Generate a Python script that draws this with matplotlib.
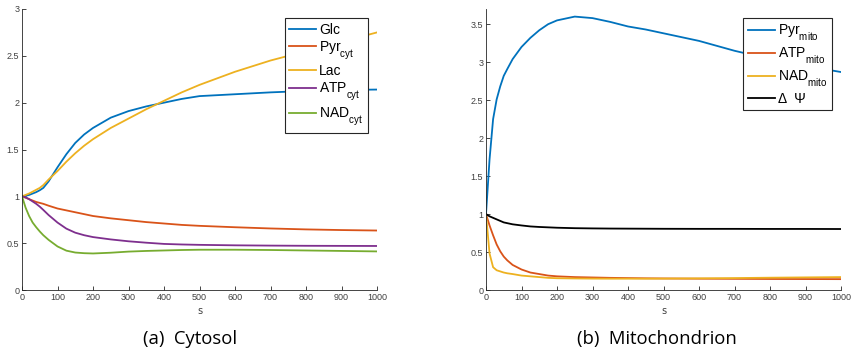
import matplotlib
matplotlib.use("Agg")
import matplotlib.pyplot as plt
import matplotlib._mathtext as mt
import numpy as np

plt.rcParams["mathtext.fontset"] = "custom"
plt.rcParams["mathtext.rm"] = "Liberation Sans"
plt.rcParams["mathtext.it"] = "Liberation Sans:italic"
# MATLAB puts subscripts lower than mathtext does
mt.FontConstantsBase.sub1 = 0.8

# time points (s)
t = [0, 10, 20, 30, 40, 50, 60, 75, 100, 125, 150, 175, 200, 250, 300, 350, 400,
     450, 500, 600, 700, 800, 900, 1000]

# cytosol
glc = [1.0, 1.005, 1.015, 1.03, 1.045, 1.065, 1.09, 1.16, 1.31, 1.45, 1.57, 1.66, 1.73,
       1.84, 1.91, 1.96, 2.0, 2.04, 2.07, 2.09, 2.11, 2.125, 2.135, 2.14]
lac = [1.0, 1.015, 1.03, 1.05, 1.07, 1.09, 1.12, 1.18, 1.27, 1.37, 1.46, 1.54, 1.61,
       1.73, 1.83, 1.93, 2.02, 2.11, 2.19, 2.33, 2.45, 2.55, 2.65, 2.75]
pyr_cyt = [1.0, 0.985, 0.97, 0.955, 0.94, 0.93, 0.92, 0.90, 0.87, 0.85, 0.83, 0.81,
           0.79, 0.765, 0.745, 0.725, 0.71, 0.695, 0.685, 0.67, 0.657, 0.647, 0.64, 0.635]
atp_cyt = [1.0, 0.99, 0.97, 0.945, 0.92, 0.89, 0.855, 0.80, 0.72, 0.655, 0.612, 0.585,
           0.565, 0.54, 0.52, 0.505, 0.492, 0.486, 0.482, 0.477, 0.474, 0.472, 0.471, 0.47]
nad_cyt = [1.0, 0.88, 0.79, 0.72, 0.67, 0.625, 0.585, 0.535, 0.465, 0.42, 0.40, 0.393,
           0.39, 0.398, 0.41, 0.417, 0.422, 0.427, 0.43, 0.43, 0.427, 0.422, 0.417, 0.412]

# mitochondrion
pyr_mito = [1.0, 1.72, 2.25, 2.51, 2.68, 2.82, 2.91, 3.04, 3.2, 3.32, 3.42, 3.5, 3.55,
            3.6, 3.58, 3.53, 3.47, 3.43, 3.38, 3.28, 3.15, 3.04, 2.95, 2.87]
atp_mito = [1.0, 0.85, 0.72, 0.6, 0.51, 0.44, 0.39, 0.33, 0.27, 0.23, 0.21, 0.19, 0.18,
            0.17, 0.165, 0.16, 0.157, 0.154, 0.152, 0.149, 0.147, 0.145, 0.144, 0.143]
nad_mito = [1.0, 0.48, 0.3, 0.26, 0.245, 0.23, 0.22, 0.21, 0.19, 0.18, 0.17, 0.16,
            0.155, 0.152, 0.15, 0.149, 0.149, 0.149, 0.15, 0.153, 0.157, 0.162, 0.166, 0.17]
dpsi = [1.0, 0.97, 0.95, 0.93, 0.91, 0.89, 0.88, 0.865, 0.85, 0.837, 0.83, 0.825,
        0.82, 0.814, 0.811, 0.809, 0.808, 0.807, 0.806, 0.805, 0.805, 0.804, 0.804, 0.803]

c_blue, c_red, c_yel, c_pur, c_grn = "#0072BD", "#D95319", "#EDB120", "#7E2F8E", "#77AC30"

fig = plt.figure(figsize=(8.51, 3.58), dpi=100)
ax1 = fig.add_axes([22 / 851, 1 - 290 / 358, 355 / 851, 281 / 358])
ax2 = fig.add_axes([486 / 851, 1 - 290 / 358, 355 / 851, 281 / 358])

for ax in (ax1, ax2):
    ax.set_xlim(0, 1000)
    ax.set_xticks(np.arange(0, 1001, 100))
    ax.spines["top"].set_visible(False)
    ax.spines["right"].set_visible(False)
    for s in ("left", "bottom"):
        ax.spines[s].set_color("#262626")
        ax.spines[s].set_linewidth(0.6)
    ax.tick_params(labelsize=6.5, colors="#262626", labelcolor="#404040",
                   length=3, width=0.6, direction="in", pad=2)
    ax.set_xlabel("s", fontsize=7, color="#404040", labelpad=3)
    for lab in ax.get_xticklabels() + ax.get_yticklabels():
        lab.set_family("Liberation Sans")

lw = 1.3
ax1.plot(t, glc, color=c_blue, lw=lw, label="Glc")
ax1.plot(t, pyr_cyt, color=c_red, lw=lw, label=r"Pyr$_{\mathregular{cyt}}$")
ax1.plot(t, lac, color=c_yel, lw=lw, label="Lac")
ax1.plot(t, atp_cyt, color=c_pur, lw=lw, label=r"ATP$_{\mathregular{cyt}}$")
ax1.plot(t, nad_cyt, color=c_grn, lw=lw, label=r"NAD$_{\mathregular{cyt}}$")
ax1.set_ylim(0, 3)
ax1.set_yticks([0, 0.5, 1, 1.5, 2, 2.5, 3])
ax1.set_yticklabels(["0", "0.5", "1", "1.5", "2", "2.5", "3"])

ax2.plot(t, pyr_mito, color=c_blue, lw=lw, label=r"Pyr$_{\mathregular{mito}}$")
ax2.plot(t, atp_mito, color=c_red, lw=lw, label=r"ATP$_{\mathregular{mito}}$")
ax2.plot(t, nad_mito, color=c_yel, lw=lw, label=r"NAD$_{\mathregular{mito}}$")
ax2.plot(t, dpsi, color="black", lw=lw, label="\u0394  \u03a8")
ax2.set_ylim(0, 3.7)
ax2.set_yticks([0, 0.5, 1, 1.5, 2, 2.5, 3, 3.5])
ax2.set_yticklabels(["0", "0.5", "1", "1.5", "2", "2.5", "3", "3.5"])

for ax in (ax1, ax2):
    leg = ax.legend(loc="upper right", bbox_to_anchor=(1.0, 1.0),
                    prop={"family": "Liberation Sans", "size": 10},
                    fancybox=False, framealpha=1, edgecolor="#262626",
                    handlelength=1.95, handletextpad=0.2, labelspacing=0.18,
                    borderpad=0.35, borderaxespad=0.65)
    leg.get_frame().set_linewidth(0.8)

fig.text(190 / 851, 1 - 339 / 358, "(a)  Cytosol", ha="center", va="center",
         fontsize=13.3, family="Open Sans")
fig.text(657 / 851, 1 - 339 / 358, "(b)  Mitochondrion", ha="center", va="center",
         fontsize=13.3, family="Open Sans")

fig.savefig("out.png", dpi=100)
